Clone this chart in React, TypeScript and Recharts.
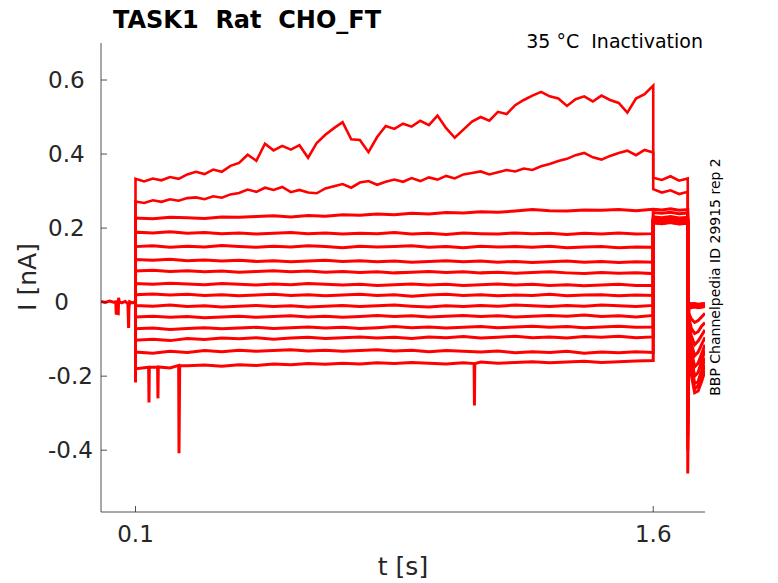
import { LineChart, Line, XAxis, YAxis } from "recharts";

// holding period before the step (all sweeps overlap here)
const preTimes = [0, 0.012, 0.025, 0.036, 0.043, 0.044, 0.05, 0.051, 0.053, 0.06, 0.07, 0.078, 0.08, 0.081, 0.083, 0.09, 0.1];
const preValues = [0.002, -0.001, 0.003, 0.0, 0.001, -0.03, -0.031, 0.012, 0.001, -0.002, 0.002, -0.004, -0.07, -0.015, 0.001, -0.002, 0.001];

// test pulse, fine grid for the two drifting sweeps
const fineTimes = [
  0.1, 0.125, 0.15, 0.175, 0.2, 0.225, 0.25, 0.275, 0.3, 0.325, 0.35, 0.375, 0.4, 0.425, 0.45, 0.475,
  0.5, 0.525, 0.55, 0.575, 0.6, 0.625, 0.65, 0.675, 0.7, 0.725, 0.75, 0.775, 0.8, 0.825, 0.85, 0.875,
  0.9, 0.925, 0.95, 0.975, 1.0, 1.025, 1.05, 1.075, 1.1, 1.125, 1.15, 1.175, 1.2, 1.225, 1.25, 1.275,
  1.3, 1.325, 1.35, 1.375, 1.4, 1.425, 1.45, 1.475, 1.5, 1.525, 1.55, 1.575, 1.6,
];
const stepTimes = [
  0.1, 0.15, 0.2, 0.25, 0.3, 0.35, 0.4, 0.45, 0.5, 0.55, 0.6, 0.65, 0.7, 0.75, 0.8, 0.85,
  0.9, 0.95, 1.0, 1.05, 1.1, 1.15, 1.2, 1.25, 1.3, 1.35, 1.4, 1.45, 1.5, 1.55, 1.6,
];

const sweep1 = [
  0.333, 0.326, 0.334, 0.329, 0.338, 0.333, 0.345, 0.352, 0.346, 0.358, 0.352, 0.368, 0.376, 0.398, 0.382, 0.428,
  0.41, 0.422, 0.412, 0.424, 0.39, 0.43, 0.452, 0.47, 0.486, 0.44, 0.438, 0.405, 0.446, 0.476, 0.468, 0.482,
  0.474, 0.49, 0.478, 0.504, 0.47, 0.444, 0.466, 0.488, 0.5, 0.49, 0.514, 0.508, 0.532, 0.546, 0.558, 0.568,
  0.556, 0.55, 0.53, 0.548, 0.556, 0.542, 0.558, 0.546, 0.538, 0.512, 0.55, 0.562, 0.585,
];
const sweep2 = [
  0.272, 0.268, 0.275, 0.271, 0.278, 0.274, 0.281, 0.283, 0.278, 0.286, 0.282, 0.291, 0.295, 0.304, 0.298, 0.309,
  0.303, 0.311, 0.297, 0.303, 0.296, 0.294, 0.307, 0.313, 0.319, 0.309, 0.323, 0.327, 0.317, 0.325, 0.331, 0.325,
  0.335, 0.327, 0.337, 0.331, 0.341, 0.334, 0.345, 0.349, 0.353, 0.345, 0.351, 0.357, 0.353, 0.361, 0.357, 0.367,
  0.373, 0.381, 0.387, 0.397, 0.403, 0.391, 0.385, 0.395, 0.403, 0.409, 0.397, 0.411, 0.404,
];
const sweep3 = [
  0.227, 0.225, 0.229, 0.228, 0.226, 0.23, 0.229, 0.231, 0.233, 0.23, 0.234, 0.232, 0.236, 0.235, 0.238, 0.236,
  0.24, 0.238, 0.242, 0.241, 0.244, 0.243, 0.246, 0.25, 0.247, 0.246, 0.249, 0.248, 0.25, 0.247, 0.251,
];
const sweep4 = [
  0.189, 0.187, 0.19, 0.186, 0.188, 0.185, 0.187, 0.184, 0.186, 0.188, 0.185, 0.187, 0.184, 0.186, 0.185, 0.188,
  0.184, 0.186, 0.183, 0.187, 0.185, 0.184, 0.187, 0.185, 0.186, 0.183, 0.186, 0.184, 0.187, 0.184, 0.185,
];
const sweep5 = [
  0.15, 0.152, 0.148, 0.151, 0.149, 0.153, 0.15, 0.148, 0.151, 0.149, 0.152, 0.15, 0.147, 0.151, 0.149, 0.15,
  0.152, 0.148, 0.15, 0.147, 0.151, 0.149, 0.15, 0.148, 0.151, 0.147, 0.149, 0.15, 0.147, 0.149, 0.148,
];
const sweep6 = [
  0.115, 0.113, 0.116, 0.112, 0.114, 0.111, 0.113, 0.11, 0.112, 0.109, 0.111, 0.113, 0.11, 0.112, 0.109, 0.111,
  0.108, 0.11, 0.112, 0.109, 0.111, 0.108, 0.11, 0.107, 0.109, 0.111, 0.108, 0.11, 0.107, 0.109, 0.108,
];
const sweep7 = [
  0.084, 0.086, 0.083, 0.085, 0.082, 0.084, 0.081, 0.083, 0.085, 0.082, 0.084, 0.081, 0.083, 0.08, 0.082, 0.079,
  0.081, 0.083, 0.08, 0.082, 0.079, 0.081, 0.078, 0.08, 0.082, 0.079, 0.077, 0.08, 0.078, 0.079, 0.077,
];
const sweep8 = [
  0.05, 0.048, 0.051, 0.049, 0.047, 0.05, 0.048, 0.046, 0.049, 0.047, 0.05, 0.048, 0.046, 0.048, 0.045, 0.047,
  0.049, 0.046, 0.048, 0.045, 0.047, 0.049, 0.046, 0.048, 0.045, 0.047, 0.044, 0.046, 0.048, 0.045, 0.045,
];
const sweep9 = [
  0.02, 0.022, 0.019, 0.021, 0.018, 0.02, 0.017, 0.019, 0.021, 0.018, 0.02, 0.017, 0.019, 0.021, 0.018, 0.02,
  0.016, 0.019, 0.021, 0.018, 0.02, 0.017, 0.019, 0.018, 0.021, 0.017, 0.019, 0.02, 0.017, 0.019, 0.018,
];
const sweep10 = [
  -0.009, -0.011, -0.008, -0.012, -0.01, -0.013, -0.011, -0.009, -0.012, -0.01, -0.013, -0.011, -0.009, -0.012, -0.01, -0.008,
  -0.011, -0.013, -0.01, -0.012, -0.009, -0.011, -0.008, -0.01, -0.012, -0.009, -0.011, -0.008, -0.01, -0.012, -0.009,
];
const sweep11 = [
  -0.04, -0.038, -0.041, -0.039, -0.042, -0.04, -0.038, -0.041, -0.039, -0.037, -0.04, -0.038, -0.041, -0.039, -0.036, -0.039,
  -0.037, -0.04, -0.038, -0.036, -0.039, -0.037, -0.04, -0.038, -0.036, -0.038, -0.035, -0.039, -0.037, -0.04, -0.036,
];
const sweep12 = [
  -0.072, -0.07, -0.074, -0.071, -0.069, -0.072, -0.07, -0.068, -0.071, -0.069, -0.067, -0.07, -0.068, -0.071, -0.069, -0.066,
  -0.069, -0.067, -0.07, -0.068, -0.066, -0.069, -0.067, -0.065, -0.068, -0.066, -0.069, -0.067, -0.065, -0.068, -0.067,
];
const sweep13 = [
  -0.103, -0.1, -0.104, -0.098, -0.101, -0.097, -0.099, -0.096, -0.1, -0.097, -0.095, -0.098, -0.096, -0.094, -0.097, -0.095,
  -0.098, -0.094, -0.096, -0.093, -0.097, -0.095, -0.092, -0.096, -0.094, -0.097, -0.093, -0.095, -0.092, -0.096, -0.094,
];
const sweep14 = [
  -0.135, -0.138, -0.133, -0.136, -0.131, -0.134, -0.13, -0.133, -0.131, -0.129, -0.132, -0.13, -0.133, -0.131, -0.129, -0.132,
  -0.13, -0.134, -0.131, -0.133, -0.135, -0.132, -0.137, -0.134, -0.136, -0.133, -0.138, -0.135, -0.137, -0.134, -0.136,
];
const sweep15 = [
  -0.18, -0.176, -0.178, -0.172, -0.17, -0.173, -0.169, -0.171, -0.167, -0.169, -0.166, -0.168, -0.165, -0.167, -0.164, -0.166,
  -0.163, -0.165, -0.167, -0.164, -0.162, -0.165, -0.163, -0.161, -0.164, -0.162, -0.16, -0.163, -0.161, -0.159, -0.158,
];
const stepValues = [sweep1, sweep2, sweep3, sweep4, sweep5, sweep6, sweep7, sweep8, sweep9, sweep10, sweep11, sweep12, sweep13, sweep14, sweep15];

// onset transient and sharp downward events on the lowest sweep
const bottomOnset = -0.217;
const bottomSpikes = [
  [0.138, -0.176], [0.139, -0.271], [0.14, -0.176],
  [0.164, -0.176], [0.165, -0.26], [0.166, -0.175],
  [0.225, -0.171], [0.226, -0.408], [0.228, -0.172],
  [1.081, -0.166], [1.082, -0.279], [1.083, -0.166],
];

// second step, 1.6 to 1.7 s
const postTimes = [1.6, 1.625, 1.65, 1.675, 1.7];
const postValues = [
  [0.336, 0.33, 0.34, 0.328, 0.334],
  [0.305, 0.296, 0.302, 0.292, 0.298],
  [0.251, 0.249, 0.252, 0.248, 0.25],
  [0.242, 0.24, 0.243, 0.239, 0.241],
  [0.23, 0.228, 0.231, 0.227, 0.229],
  [0.225, 0.223, 0.226, 0.222, 0.224],
  [0.223, 0.221, 0.224, 0.22, 0.222],
  [0.221, 0.219, 0.222, 0.218, 0.22],
  [0.22, 0.218, 0.221, 0.217, 0.219],
  [0.219, 0.217, 0.22, 0.216, 0.218],
  [0.218, 0.216, 0.219, 0.215, 0.217],
  [0.217, 0.215, 0.218, 0.214, 0.216],
  [0.216, 0.214, 0.217, 0.213, 0.215],
  [0.215, 0.213, 0.216, 0.212, 0.214],
  [0.214, 0.212, 0.215, 0.211, 0.213],
];

// tail currents after 1.7 s
const tailTimes = [1.7, 1.703, 1.71, 1.72, 1.73, 1.74, 1.75];
const tailValues = [
  [-0.05, -0.002, -0.004, -0.003, -0.005, -0.004, -0.003],
  [-0.08, -0.004, -0.006, -0.005, -0.007, -0.005, -0.004],
  [-0.1, -0.006, -0.008, -0.007, -0.009, -0.007, -0.006],
  [-0.12, -0.008, -0.01, -0.009, -0.011, -0.009, -0.008],
  [-0.15, -0.01, -0.012, -0.011, -0.013, -0.011, -0.01],
  [-0.18, -0.012, -0.015, -0.013, -0.015, -0.014, -0.012],
  [-0.2, -0.03, -0.045, -0.055, -0.05, -0.04, -0.03],
  [-0.22, -0.04, -0.07, -0.085, -0.08, -0.065, -0.055],
  [-0.25, -0.05, -0.09, -0.115, -0.105, -0.09, -0.075],
  [-0.28, -0.06, -0.11, -0.145, -0.135, -0.115, -0.095],
  [-0.3, -0.07, -0.13, -0.175, -0.165, -0.14, -0.115],
  [-0.33, -0.08, -0.15, -0.2, -0.19, -0.16, -0.13],
  [-0.36, -0.09, -0.165, -0.22, -0.215, -0.185, -0.15],
  [-0.4, -0.1, -0.18, -0.235, -0.225, -0.2, -0.17],
  [-0.463, -0.11, -0.195, -0.245, -0.24, -0.215, -0.185],
];

const xTicks = [0.1, 1.6];
const yTicks = [-0.4, -0.2, 0, 0.2, 0.4, 0.6];

const RED = "#ff0000";
const INK = "#262626";
const FONT = "'DejaVu Sans', sans-serif";

type Pt = { t: number; v: number };

const preData: Pt[] = preTimes.map((t, k) => ({ t, v: preValues[k] }));

function buildSweep(i: number): Pt[] {
  const times = i < 2 ? fineTimes : stepTimes;
  let step: Pt[] = times.map((t, k) => ({ t, v: stepValues[i][k] }));
  const pts: Pt[] = [{ t: 0.1, v: 0 }];
  if (i === 14) {
    pts.push({ t: 0.1, v: bottomOnset });
    step = [...step, ...bottomSpikes.map(([t, v]) => ({ t, v }))].sort((a, b) => a.t - b.t);
  }
  pts.push(...step);
  postTimes.forEach((t, k) => pts.push({ t, v: postValues[i][k] }));
  tailTimes.forEach((t, k) => pts.push({ t, v: tailValues[i][k] }));
  return pts;
}

const sweeps = stepValues.map((_, i) => buildSweep(i));

const fmt = (v: number) => (v === 0 ? "0" : String(v));

function YTick(props: any) {
  const { x, y, payload } = props;
  const zero = payload.value === 0;
  return (
    <g>
      <line x1={x} x2={x + 6} y1={y} y2={y} stroke={INK} strokeWidth={0.8} />
      <text
        x={zero ? x - 32 : x - 53}
        y={y + 8}
        textAnchor={zero ? "end" : "start"}
        fontSize={23}
        fill={INK}
        fontFamily={FONT}
      >
        {fmt(payload.value)}
      </text>
    </g>
  );
}

function XTick(props: any) {
  const { x, y, payload } = props;
  return (
    <g>
      <line x1={x} x2={x} y1={y} y2={y - 6} stroke={INK} strokeWidth={0.8} />
      <text x={x} y={y + 30} textAnchor="middle" fontSize={23} fill={INK} fontFamily={FONT}>
        {fmt(payload.value)}
      </text>
    </g>
  );
}

export default function App() {
  return (
    <div style={{ position: "absolute", left: 0, top: 0, width: 778, height: 583, background: "#fff" }}>
      <LineChart width={778} height={583} margin={{ top: 43, right: 73, bottom: 0, left: 0 }}>
        <XAxis
          type="number"
          dataKey="t"
          domain={[0, 1.75]}
          ticks={xTicks}
          interval={0}
          height={71}
          tickSize={0}
          tickMargin={0}
          tickLine={false}
          axisLine={{ stroke: INK, strokeWidth: 0.8 }}
          tick={<XTick />}
          allowDataOverflow
        />
        <YAxis
          type="number"
          domain={[-0.567, 0.7]}
          ticks={yTicks}
          interval={0}
          width={101}
          tickSize={0}
          tickMargin={0}
          tickLine={false}
          axisLine={{ stroke: INK, strokeWidth: 0.8 }}
          tick={<YTick />}
          allowDataOverflow
        />
        <Line data={preData} dataKey="v" stroke={RED} strokeWidth={3} dot={false} isAnimationActive={false} />
        {sweeps.map((d, i) => (
          <Line
            key={i}
            data={d}
            dataKey="v"
            type="linear"
            stroke={RED}
            strokeWidth={i < 2 ? 2.6 : 3}
            strokeLinejoin="miter"
            dot={false}
            isAnimationActive={false}
          />
        ))}
      </LineChart>
      <svg width={778} height={583} style={{ position: "absolute", left: 0, top: 0, pointerEvents: "none" }}>
        <text x={113} y={28} fontSize={24} fontWeight="bold" fill="#000" fontFamily={FONT} style={{ whiteSpace: "pre" }}>
          {"TASK1  Rat  CHO_FT"}
        </text>
        <text x={703} y={48} textAnchor="end" fontSize={19} fill="#000" fontFamily={FONT} style={{ whiteSpace: "pre" }}>
          {"35 °C  Inactivation"}
        </text>
        <text x={403} y={575} textAnchor="middle" fontSize={25} fill={INK} fontFamily={FONT}>
          t [s]
        </text>
        <text transform="translate(36,277) rotate(-90)" textAnchor="middle" fontSize={25} fill={INK} fontFamily={FONT}>
          I [nA]
        </text>
        <text transform="translate(720,277) rotate(-90)" textAnchor="middle" fontSize={14} fill="#000" fontFamily={FONT}>
          BBP Channelpedia ID 29915 rep 2
        </text>
      </svg>
    </div>
  );
}
